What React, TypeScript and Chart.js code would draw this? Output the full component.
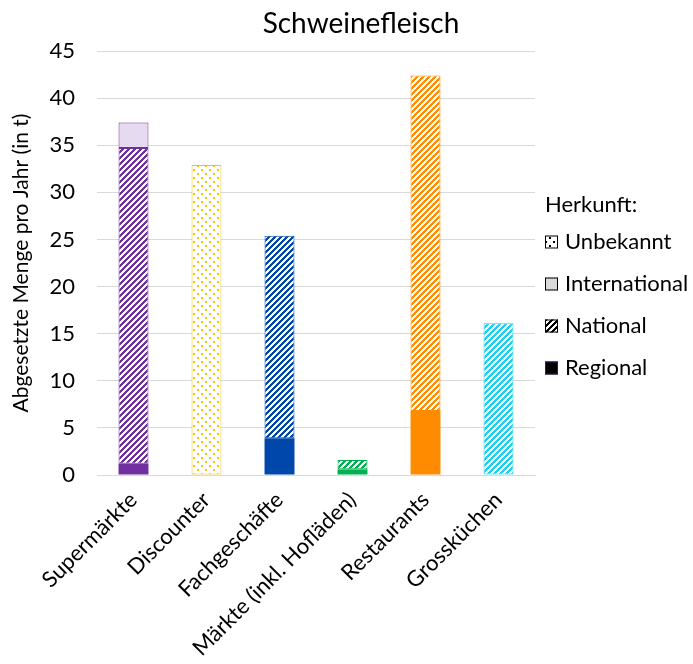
import React, { useEffect, useRef } from "react";
import { Chart, registerables } from "chart.js";

Chart.register(...registerables);

const categories = [
  "Supermärkte",
  "Discounter",
  "Fachgeschäfte",
  "Märkte (inkl. Hofläden)",
  "Restaurants",
  "Grossküchen",
];
const regional = [1.2, 0, 3.9, 0.6, 6.8, 0];
const national = [33.5, 0, 21.5, 1.0, 35.6, 16.1];
const international = [2.7, 0, 0, 0, 0, 0];
const unbekannt = [0, 32.9, 0, 0, 0, 0];
const barColors = ["#7030A0", "#FFC000", "#0047AB", "#00B050", "#FF8C00", "#1ACFEF"];
const lightColors = ["#E6DAF0", "#FFF2CC", "#DAE3F3", "#E2F0D9", "#FBE5D6", "#DDF6FC"];
const legendTitle = "Herkunft:";
const yTicks = [0, 5, 10, 15, 20, 25, 30, 35, 40, 45];
const chartTitle = "Schweinefleisch";
const yTitle = "Abgesetzte Menge pro Jahr (in t)";

const FONT = "Lato, 'Open Sans', sans-serif";

function hexToRgb(hex: string) {
  const n = parseInt(hex.slice(1), 16);
  return [(n >> 16) & 255, (n >> 8) & 255, n & 255];
}

function stripePattern(color: string): CanvasPattern {
  const N = 6;
  const c = document.createElement("canvas");
  c.width = N;
  c.height = N;
  const ctx = c.getContext("2d")!;
  const img = ctx.createImageData(N, N);
  const [r, g, b] = hexToRgb(color);
  for (let y = 0; y < N; y++) {
    for (let x = 0; x < N; x++) {
      const i = (y * N + x) * 4;
      const on = (x + y) % N < 3;
      img.data[i] = on ? r : 255;
      img.data[i + 1] = on ? g : 255;
      img.data[i + 2] = on ? b : 255;
      img.data[i + 3] = 255;
    }
  }
  ctx.putImageData(img, 0, 0);
  return document.createElement("canvas").getContext("2d")!.createPattern(c, "repeat")!;
}

function dotPattern(color: string): CanvasPattern {
  const c = document.createElement("canvas");
  c.width = 8;
  c.height = 8;
  const ctx = c.getContext("2d")!;
  ctx.fillStyle = "#ffffff";
  ctx.fillRect(0, 0, 8, 8);
  ctx.fillStyle = color;
  ctx.fillRect(1, 1, 2, 2);
  ctx.fillRect(5, 5, 2, 2);
  return document.createElement("canvas").getContext("2d")!.createPattern(c, "repeat")!;
}

export default function App() {
  const ref = useRef<HTMLCanvasElement>(null);

  useEffect(() => {
    if (!ref.current) return;
    const nn = (arr: number[]) => arr.map((v) => (v ? v : null));

    const legendItems = [
      { text: "Unbekannt", fill: dotPattern("#000000"), border: "#000000" },
      { text: "International", fill: "#D9D9D9", border: "#000000" },
      { text: "National", fill: stripePattern("#000000"), border: "#000000" },
      { text: "Regional", fill: "#000000", border: "#3b1a55" },
    ];

    const customPlugin = {
      id: "customDecor",
      afterDraw(chart: any) {
        const { ctx, chartArea } = chart;
        ctx.save();
        // title
        ctx.fillStyle = "#000000";
        ctx.font = `28px ${FONT}`;
        ctx.textAlign = "center";
        ctx.textBaseline = "alphabetic";
        ctx.fillText(chartTitle, 361, 33);
        // legend
        const lx = chartArea.right + 10;
        ctx.font = `22px ${FONT}`;
        ctx.textAlign = "left";
        ctx.textBaseline = "middle";
        ctx.fillText(legendTitle, lx, chartArea.top + 154);
        legendItems.forEach((it, i) => {
          const cy = chartArea.top + 191 + i * 42;
          ctx.fillStyle = it.fill as any;
          ctx.fillRect(lx, cy - 6.5, 13, 13);
          ctx.strokeStyle = it.border;
          ctx.lineWidth = 1;
          ctx.strokeRect(lx + 0.5, cy - 6, 12, 12);
          ctx.fillStyle = "#000000";
          ctx.fillText(it.text, lx + 20, cy);
        });
        ctx.restore();
      },
    };

    const chart = new Chart(ref.current, {
      type: "bar",
      data: {
        labels: categories,
        datasets: [
          {
            label: "Regional",
            data: nn(regional),
            backgroundColor: barColors,
            borderWidth: 0,
          },
          {
            label: "National",
            data: nn(national),
            backgroundColor: barColors.map((c) => stripePattern(c)),
            borderColor: barColors,
            borderWidth: 1,
            borderSkipped: false,
          },
          {
            label: "International",
            data: nn(international),
            backgroundColor: lightColors,
            borderColor: barColors,
            borderWidth: 1,
            borderSkipped: false,
          },
          {
            label: "Unbekannt",
            data: nn(unbekannt),
            backgroundColor: barColors.map((c) => dotPattern(c)),
            borderColor: barColors,
            borderWidth: 1,
            borderSkipped: false,
          },
        ] as any,
      },
      options: {
        responsive: false,
        animation: false,
        devicePixelRatio: 1,
        layout: { padding: { top: 51, right: 158, left: 0, bottom: 0 } },
        datasets: { bar: { categoryPercentage: 1, barPercentage: 0.41 } },
        plugins: {
          legend: { display: false },
          title: { display: false },
          tooltip: { enabled: false },
        },
        scales: {
          x: {
            stacked: true,
            grid: { display: false },
            border: { display: true, color: "#D9D9D9", width: 1 },
            ticks: {
              autoSkip: false,
              maxRotation: 45,
              minRotation: 45,
              color: "#000000",
              font: { family: FONT, size: 22 },
              padding: 4,
            },
            afterFit: (s: any) => {
              s.height = 189;
            },
          },
          y: {
            stacked: true,
            min: 0,
            max: 45,
            afterBuildTicks: (s: any) => {
              s.ticks = yTicks.map((v) => ({ value: v }));
            },
            grid: { color: "#D9D9D9", lineWidth: 1, drawTicks: false },
            border: { display: false },
            ticks: {
              color: "#000000",
              font: { family: FONT, size: 22 },
              padding: 22,
            },
            title: {
              display: true,
              text: yTitle,
              color: "#000000",
              font: { family: FONT, size: 21 },
              padding: { top: 9, bottom: 0 },
            },
            afterFit: (s: any) => {
              s.width = 97;
            },
          },
        },
      },
      plugins: [customPlugin],
    });
    return () => chart.destroy();
  }, []);

  return (
    <div style={{ position: "absolute", left: 0, top: 0, width: 693, height: 664, background: "#fff" }}>
      <canvas ref={ref} width={693} height={664} />
    </div>
  );
}
